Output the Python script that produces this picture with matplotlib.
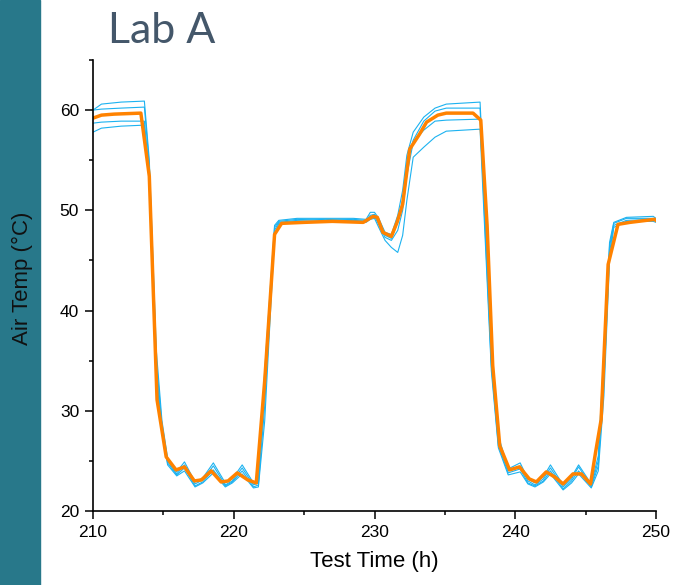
import matplotlib.pyplot as plt
from matplotlib.patches import Rectangle
from matplotlib.ticker import MultipleLocator

# Individual sensor traces (thin blue), sampled at shared times
bx = [210.0, 210.6, 212.0, 213.65, 214.0, 214.5, 214.9, 215.3, 215.95, 216.5,
      217.25, 217.8, 218.55, 219.4, 219.9, 220.6, 221.4, 221.75, 222.2, 222.9,
      223.2, 224.5, 226.5, 228.5, 229.4, 229.7, 230.0, 230.3, 230.75, 231.2,
      231.65, 232.0, 232.3, 232.75, 233.5, 234.3, 235.1, 237.5, 237.7, 238.3,
      238.8, 239.5, 240.35, 240.9, 241.4, 242.0, 242.5, 243.4, 244.0, 244.5,
      245.4, 245.9, 246.3, 246.7, 247.0, 247.9, 249.8, 250.0]
sensor_a = [60.0, 60.6, 60.8, 60.9, 55.0, 36.0, 29.0, 25.3, 23.9, 24.9,
            22.9, 23.3, 24.8, 22.8, 23.2, 24.6, 22.8, 23.0, 34.0, 48.5,
            49.0, 49.2, 49.2, 49.2, 49.1, 49.8, 49.8, 49.2, 47.8, 47.6,
            49.5, 52.0, 55.5, 57.8, 59.3, 60.2, 60.6, 60.8, 55.0, 36.0,
            27.5, 24.2, 24.8, 23.2, 22.8, 23.4, 24.6, 22.6, 23.4, 24.6,
            22.7, 25.5, 36.0, 46.8, 48.8, 49.3, 49.4, 49.2]
sensor_b = [60.0, 60.1, 60.2, 60.3, 54.5, 35.0, 28.5, 25.0, 23.7, 24.6,
            22.7, 23.1, 24.5, 22.6, 23.0, 24.3, 22.6, 22.8, 32.0, 48.3,
            48.9, 49.1, 49.0, 49.1, 49.0, 49.5, 49.6, 49.0, 47.5, 47.2,
            48.8, 51.0, 54.8, 57.0, 58.9, 59.9, 60.2, 60.2, 54.0, 35.0,
            27.0, 24.0, 24.5, 23.0, 22.6, 23.2, 24.3, 22.4, 23.2, 24.4,
            22.5, 25.0, 35.0, 46.4, 48.7, 49.2, 49.2, 49.1]
sensor_c = [58.7, 58.8, 58.9, 58.9, 53.5, 34.0, 28.0, 24.8, 23.6, 24.3,
            22.5, 22.9, 24.1, 22.5, 22.9, 24.0, 22.4, 22.6, 30.5, 48.0,
            48.8, 49.0, 49.1, 49.0, 48.9, 49.3, 49.4, 48.6, 47.3, 47.0,
            48.0, 50.0, 53.5, 56.8, 58.0, 58.9, 59.0, 59.1, 53.0, 34.5,
            26.5, 23.8, 24.2, 22.8, 22.5, 23.0, 24.0, 22.2, 23.0, 24.0,
            22.4, 24.5, 33.0, 45.8, 48.5, 49.0, 49.1, 48.9]
sensor_d = [57.8, 58.2, 58.4, 58.5, 53.0, 33.5, 27.8, 24.6, 23.5, 24.0,
            22.4, 22.8, 23.8, 22.4, 22.8, 23.7, 22.3, 22.4, 29.0, 47.5,
            48.7, 48.9, 48.9, 49.0, 48.8, 49.1, 49.2, 48.3, 47.0, 46.3,
            45.8, 47.5, 51.0, 55.3, 56.3, 57.3, 57.9, 58.1, 52.0, 34.0,
            26.3, 23.6, 23.9, 22.7, 22.4, 22.9, 23.7, 22.1, 22.8, 23.7,
            22.3, 24.0, 31.5, 45.0, 48.3, 48.9, 48.9, 48.8]

# Average trace (thick orange)
ox = [210.0, 210.6, 211.5, 213.4, 214.0, 214.55, 215.2, 215.9, 216.5, 217.2,
      217.7, 218.4, 219.1, 219.6, 220.25, 221.0, 221.6, 222.2, 222.9, 223.4,
      225.0, 227.0, 229.2, 229.9, 230.2, 230.6, 231.2, 231.6, 232.0, 232.5,
      233.2, 233.7, 234.5, 235.1, 237.0, 237.55, 238.0, 238.4, 238.9, 239.6,
      240.3, 241.0, 241.5, 242.2, 242.8, 243.4, 244.1, 244.7, 245.35, 245.7,
      246.1, 246.6, 247.3, 248.15, 249.9, 250.0]
oy = [59.2, 59.5, 59.6, 59.7, 53.4, 31.1, 25.4, 24.1, 24.4, 23.0,
      23.1, 24.0, 22.9, 23.0, 23.8, 23.1, 22.8, 33.0, 47.6, 48.7,
      48.8, 48.9, 48.8, 49.4, 49.3, 47.8, 47.4, 48.8, 50.6, 56.1,
      57.6, 58.8, 59.5, 59.7, 59.7, 59.0, 48.5, 34.5, 26.5, 24.1,
      24.4, 23.2, 22.9, 23.9, 23.4, 22.7, 23.7, 23.7, 22.7, 25.8,
      29.1, 44.6, 48.6, 48.8, 49.1, 49.0]

fig = plt.figure(figsize=(6.74, 5.85), dpi=100)
fig.patches.append(Rectangle((0, 0), 40 / 674, 1, transform=fig.transFigure,
                             color='#28788A', zorder=0))

ax = fig.add_axes([93 / 674, 1 - 511 / 585, (656 - 93) / 674, (511 - 60) / 585])

for s in [sensor_a, sensor_b, sensor_c, sensor_d]:
    ax.plot(bx, s, color='#1CB2F0', linewidth=0.8)
ax.plot(ox, oy, color='#FF8200', linewidth=2.5, solid_joinstyle='round')

ax.set_xlim(210, 250)
ax.set_ylim(20, 65)
ax.xaxis.set_major_locator(MultipleLocator(10))
ax.xaxis.set_minor_locator(MultipleLocator(5))
ax.yaxis.set_major_locator(MultipleLocator(10))
ax.yaxis.set_minor_locator(MultipleLocator(5))
ax.spines['top'].set_visible(False)
ax.spines['right'].set_visible(False)
for sp in ['left', 'bottom']:
    ax.spines[sp].set_linewidth(1.2)
ax.tick_params(which='major', direction='out', length=6, width=1.1,
               labelsize=12.5, pad=4)
ax.tick_params(which='minor', direction='out', length=3, width=1.1)
for lab in ax.get_xticklabels() + ax.get_yticklabels():
    lab.set_fontfamily('Liberation Sans')

ax.set_xlabel('Test Time (h)', fontsize=16, family='Liberation Sans', labelpad=8)
fig.text(22 / 674, 1 - 278 / 585, 'Air Temp (°C)', rotation=90, fontsize=16,
         family='Liberation Sans', ha='center', va='center', color='#111111')
fig.text(108 / 674, 1 - 43 / 585, 'Lab A', fontsize=31, family='Lato',
         color='#44576A', ha='left', va='baseline')

fig.savefig('out.png', dpi=100)
